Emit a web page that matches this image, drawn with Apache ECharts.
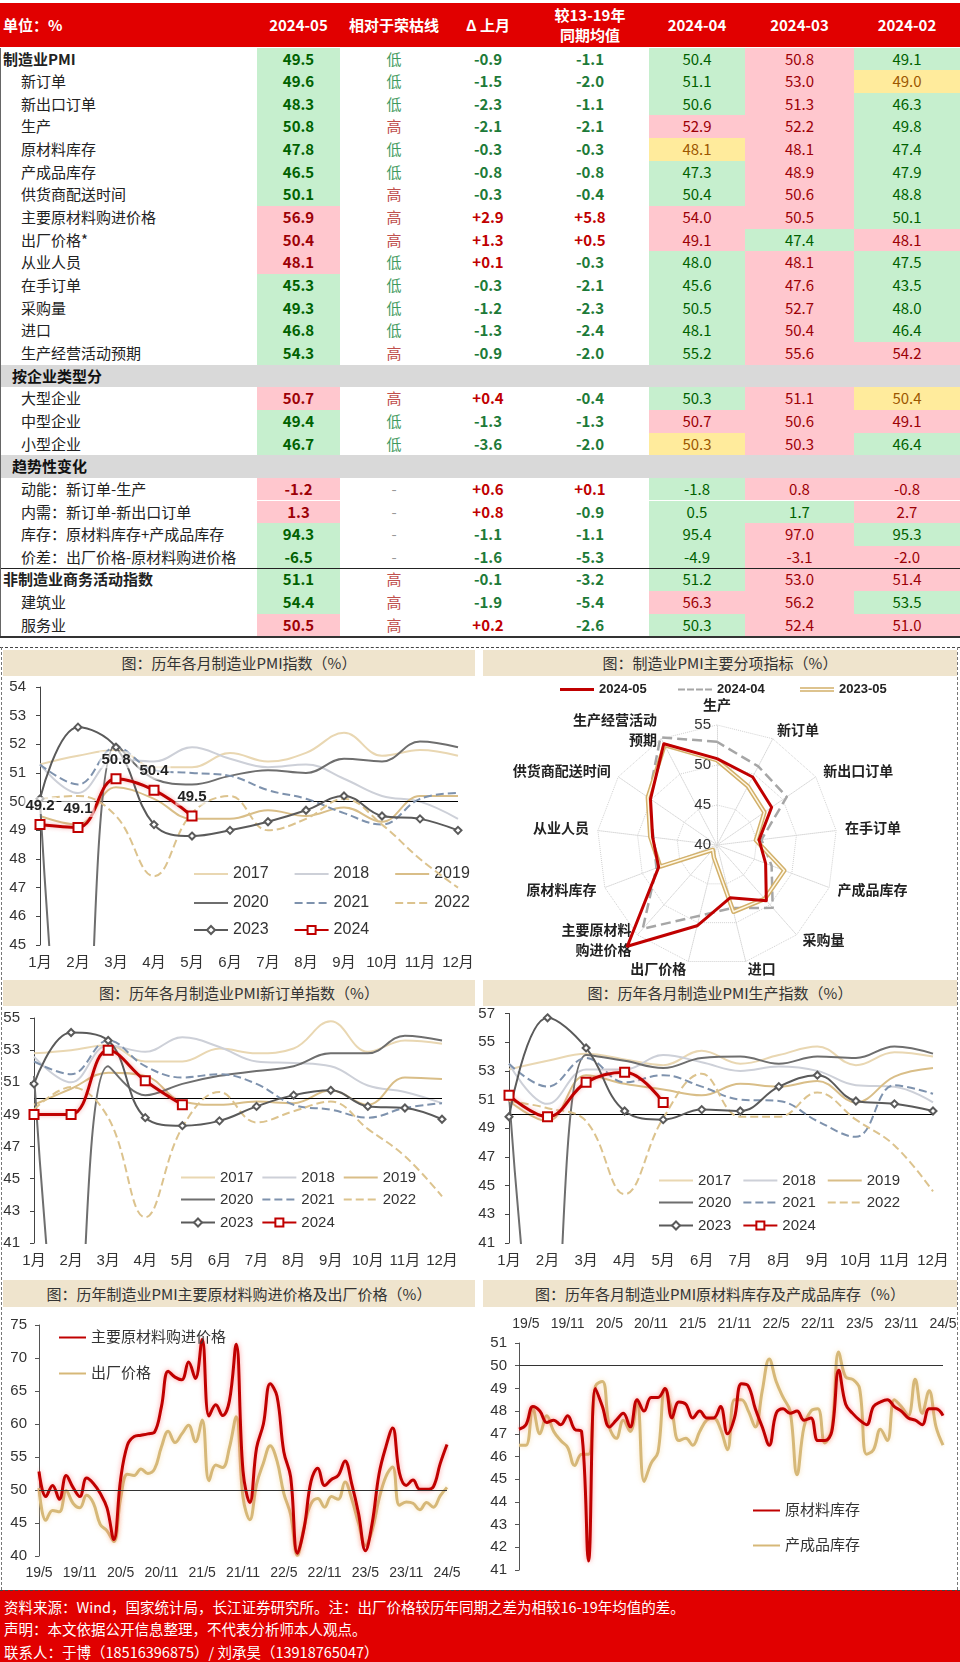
<!DOCTYPE html>
<html>
<head>
<meta charset="utf-8">
<title>制造业PMI</title>
<script src="https://cdn.jsdelivr.net/npm/echarts@6/dist/echarts.min.js"></script>
<style>
  html, body { margin: 0; padding: 0; background: #fff; }
  body { width: 960px; height: 1662px; position: relative; overflow: hidden;
         font-family: "Noto Sans CJK SC", "Liberation Sans", sans-serif; }
  .a { position: absolute; box-sizing: border-box; white-space: nowrap; }
  .hd { color: #fff; font-weight: bold; font-size: 15px; text-align: center; }
  .band { background: #efe4cd; color: #333; font-size: 15px; text-align: center; line-height: 26px; }
  .foot { color: #fff; font-size: 14.5px; left: 4px; }
</style>
</head>
<body>

<div class="a" style="left:0;top:3px;width:960px;height:44px;background:#e10000;"></div>
<div class="a hd" style="left:3px;top:3px;line-height:44px;text-align:left;">单位：%</div>
<div class="a hd" style="left:257px;width:83px;top:3px;line-height:44px;">2024-05</div>
<div class="a hd" style="left:340px;width:108px;top:3px;line-height:44px;">相对于荣枯线</div>
<div class="a hd" style="left:440px;width:96px;top:3px;line-height:44px;">Δ 上月</div>
<div class="a hd" style="left:540px;width:100px;top:5px;line-height:20px;">较13-19年<br>同期均值</div>
<div class="a hd" style="left:649px;width:96px;top:3px;line-height:44px;">2024-04</div>
<div class="a hd" style="left:745px;width:109px;top:3px;line-height:44px;">2024-03</div>
<div class="a hd" style="left:854px;width:106px;top:3px;line-height:44px;">2024-02</div>

<div class="a band" style="left:3px;top:650px;width:472px;height:26px;">图：历年各月制造业PMI指数（%）</div>
<div class="a band" style="left:483px;top:650px;width:474px;height:26px;">图：制造业PMI主要分项指标（%）</div>
<div class="a band" style="left:3px;top:980px;width:472px;height:26px;">图：历年各月制造业PMI新订单指数（%）</div>
<div class="a band" style="left:483px;top:980px;width:474px;height:26px;">图：历年各月制造业PMI生产指数（%）</div>
<div class="a band" style="left:3px;top:1280px;width:472px;height:27px;line-height:27px;">图：历年制造业PMI主要原材料购进价格及出厂价格（%）</div>
<div class="a band" style="left:483px;top:1280px;width:474px;height:27px;line-height:27px;">图：历年各月制造业PMI原材料库存及产成品库存（%）</div>

<div id="c1" class="a" style="left:0;top:676px;width:480px;height:304px;"></div>
<div id="c2" class="a" style="left:480px;top:676px;width:480px;height:304px;"></div>
<div id="c3" class="a" style="left:0;top:1006px;width:480px;height:274px;"></div>
<div id="c4" class="a" style="left:470px;top:1006px;width:490px;height:274px;"></div>
<div id="c5" class="a" style="left:0;top:1307px;width:480px;height:283px;"></div>
<div id="c6" class="a" style="left:480px;top:1307px;width:480px;height:283px;"></div>

<div class="a" style="left:0;top:647px;width:960px;border-top:1.5px dashed #444;"></div>
<div class="a" style="left:1px;top:647px;height:943px;border-left:1px dashed #777;"></div>
<div class="a" style="left:957px;top:647px;height:943px;border-left:1px dashed #777;"></div>
<div class="a" style="left:0;top:1590px;width:960px;height:72px;background:#e10000;border-top:1.5px dashed #444;"></div>
<div class="a foot" style="top:1596px;">资料来源：Wind，国家统计局，长江证券研究所。注：出厂价格较历年同期之差为相较16-19年均值的差。</div>
<div class="a foot" style="top:1618px;">声明：本文依据公开信息整理，不代表分析师本人观点。</div>
<div class="a foot" style="top:1641px;">联系人：于博（18516396875）/ 刘承昊（13918765047）</div>

<script>
// ---------- table data ----------
const rowLabels = ['制造业PMI', '新订单', '新出口订单', '生产', '原材料库存', '产成品库存', '供货商配送时间',
  '主要原材料购进价格', '出厂价格*', '从业人员', '在手订单', '采购量', '进口', '生产经营活动预期',
  '按企业类型分', '大型企业', '中型企业', '小型企业',
  '趋势性变化', '动能：新订单-生产', '内需：新订单-新出口订单', '库存：原材料库存+产成品库存', '价差：出厂价格-原材料购进价格',
  '非制造业商务活动指数', '建筑业', '服务业'];
const rowKinds = 'biiiiiiiiiiiiisiiisiiiibii';
const may24 = ['49.5', '49.6', '48.3', '50.8', '47.8', '46.5', '50.1', '56.9', '50.4', '48.1', '45.3', '49.3', '46.8', '54.3',
  '', '50.7', '49.4', '46.7', '', '-1.2', '1.3', '94.3', '-6.5', '51.1', '54.4', '50.5'];
const vsLine = ['低', '低', '低', '高', '低', '低', '高', '高', '高', '低', '低', '低', '低', '高',
  '', '高', '低', '低', '', '-', '-', '-', '-', '高', '高', '高'];
const dPrev = ['-0.9', '-1.5', '-2.3', '-2.1', '-0.3', '-0.8', '-0.3', '+2.9', '+1.3', '+0.1', '-0.3', '-1.2', '-1.3', '-0.9',
  '', '+0.4', '-1.3', '-3.6', '', '+0.6', '+0.8', '-1.1', '-1.6', '-0.1', '-1.9', '+0.2'];
const vsAvg = ['-1.1', '-2.0', '-1.1', '-2.1', '-0.3', '-0.8', '-0.4', '+5.8', '+0.5', '-0.3', '-2.1', '-2.3', '-2.4', '-2.0',
  '', '-0.4', '-1.3', '-2.0', '', '+0.1', '-0.9', '-1.1', '-5.3', '-3.2', '-5.4', '-2.6'];
const apr24 = ['50.4', '51.1', '50.6', '52.9', '48.1', '47.3', '50.4', '54.0', '49.1', '48.0', '45.6', '50.5', '48.1', '55.2',
  '', '50.3', '50.7', '50.3', '', '-1.8', '0.5', '95.4', '-4.9', '51.2', '56.3', '50.3'];
const mar24 = ['50.8', '53.0', '51.3', '52.2', '48.1', '48.9', '50.6', '50.5', '47.4', '48.1', '47.6', '52.7', '50.4', '55.6',
  '', '51.1', '50.6', '50.3', '', '0.8', '1.7', '97.0', '-3.1', '53.0', '56.2', '52.4'];
const feb24 = ['49.1', '49.0', '46.3', '49.8', '47.4', '47.9', '48.8', '50.1', '48.1', '47.5', '43.5', '48.0', '46.4', '54.2',
  '', '50.4', '49.1', '46.4', '', '-0.8', '2.7', '95.3', '-2.0', '51.4', '53.5', '51.0'];
// highlight of each cell as in the reference (G green, R red, Y yellow)
const markMay = 'GGGGGGGRRRGGGG-RGG-RRGGGGR';
const markApr = 'GGGRYGGRRGGGGG-GRY-GGGGGRG';
const markMar = 'RRRRRRRRGRRRRR-RRR-RGRRRRR';
const markFeb = 'GYGGGGGGRGGGGR-YRG-RRGRRGR';

// ---------- chart data ----------
const monthCats = ['1月', '2月', '3月', '4月', '5月', '6月', '7月', '8月', '9月', '10月', '11月', '12月'];
const years = ['2017', '2018', '2019', '2020', '2021', '2022', '2023', '2024'];

const pmi17 = [51.3, 51.6, 51.8, 51.2, 51.2, 51.7, 51.4, 51.7, 52.4, 51.6, 51.8, 51.6];
const pmi18 = [51.3, 50.3, 51.5, 51.4, 51.9, 51.5, 51.2, 51.3, 50.8, 50.2, 50.0, 49.4];
const pmi19 = [49.5, 49.2, 50.5, 50.1, 49.4, 49.4, 49.7, 49.5, 49.8, 49.3, 50.2, 50.2];
const pmi20 = [50.0, 35.7, 52.0, 50.8, 50.6, 50.9, 51.1, 51.0, 51.5, 51.4, 52.1, 51.9];
const pmi21 = [51.3, 50.6, 51.9, 51.1, 51.0, 50.9, 50.4, 50.1, 49.6, 49.2, 50.1, 50.3];
const pmi22 = [50.1, 50.2, 49.5, 47.4, 49.6, 50.2, 49.0, 49.4, 50.1, 49.2, 48.0, 47.0];
const pmi23 = [50.1, 52.6, 51.9, 49.2, 48.8, 49.0, 49.3, 49.7, 50.2, 49.5, 49.4, 49.0];
const pmi24 = [49.2, 49.1, 50.8, 50.4, 49.5];

const ord17 = [52.8, 53.0, 53.3, 52.3, 52.3, 53.1, 52.8, 53.1, 54.8, 52.9, 53.6, 53.4];
const ord18 = [52.6, 51.0, 53.3, 52.9, 53.8, 53.2, 52.3, 52.2, 52.0, 50.8, 50.4, 49.7];
const ord19 = [49.6, 50.6, 51.6, 51.4, 49.8, 49.6, 49.8, 49.7, 50.5, 49.6, 51.3, 51.2];
const ord20 = [51.4, 29.3, 52.0, 50.2, 50.9, 51.4, 51.7, 52.0, 52.8, 52.8, 53.9, 53.6];
const ord21 = [52.3, 51.5, 53.6, 52.0, 51.3, 51.5, 50.9, 49.6, 49.3, 48.8, 49.4, 49.7];
const ord22 = [49.3, 50.7, 48.8, 42.6, 48.2, 50.4, 48.5, 49.2, 49.8, 48.1, 46.4, 43.9];
const ord23 = [50.9, 54.1, 53.6, 48.8, 48.3, 48.6, 49.5, 50.2, 50.5, 49.5, 49.4, 48.7];
const ord24 = [49.0, 49.0, 53.0, 51.1, 49.6];

const prd17 = [53.1, 53.7, 54.2, 53.8, 53.4, 54.4, 53.5, 54.1, 54.7, 53.4, 54.3, 54.0];
const prd18 = [53.5, 50.7, 53.1, 53.1, 54.1, 53.6, 53.0, 53.3, 53.0, 52.0, 51.9, 50.8];
const prd19 = [50.9, 49.5, 52.7, 52.1, 51.7, 51.3, 52.1, 51.9, 52.3, 50.8, 52.6, 53.2];
const prd20 = [51.3, 27.8, 54.1, 53.7, 53.2, 53.9, 54.0, 53.5, 54.0, 53.9, 54.7, 54.2];
const prd21 = [53.5, 51.9, 53.9, 52.2, 52.7, 51.9, 51.0, 50.9, 49.5, 48.4, 52.0, 51.4];
const prd22 = [50.9, 50.4, 49.5, 44.4, 49.7, 52.8, 49.8, 49.8, 51.5, 49.6, 47.8, 44.6];
const prd23 = [49.8, 56.7, 54.6, 50.2, 49.6, 50.3, 50.2, 51.9, 52.7, 50.9, 50.7, 50.2];
const prd24 = [51.3, 49.8, 52.2, 52.9, 50.8];

// radar, listed clockwise from the top
const radarNames = ['生产', '新订单', '新出口订单', '在手订单', '产成品库存', '采购量', '进口', '出厂价格',
  '主要原材料\n购进价格', '原材料库存', '从业人员', '供货商配送时间', '生产经营活动\n预期'];
const radarMay24 = [50.8, 49.6, 48.3, 45.3, 46.5, 49.3, 46.8, 50.4, 56.9, 47.8, 48.1, 50.1, 54.3];
const radarApr24 = [52.9, 51.1, 50.6, 45.6, 47.3, 50.5, 48.1, 49.1, 54.0, 48.1, 48.0, 50.4, 55.2];
const radarMay23 = [50.6, 48.3, 47.2, 44.9, 49.0, 49.0, 48.6, 41.6, 40.8, 47.6, 48.4, 50.5, 54.1];

// monthly from 2019-05 to 2024-05
const inputPrice = [52.8, 49.0, 50.7, 48.6, 52.2, 50.4, 49.0, 51.8,
  51.0, 49.5, 47.3, 42.5, 51.6, 56.8, 58.1, 58.3, 58.5, 58.8, 62.6, 68.0,
  67.1, 66.7, 69.4, 66.9, 72.8, 61.2, 62.9, 61.3, 63.5, 72.1, 52.9, 48.1,
  56.4, 60.0, 66.1, 64.2, 55.8, 52.0, 40.4, 44.3, 51.3, 53.3, 50.7, 51.6,
  52.2, 54.4, 50.9, 46.4, 40.8, 45.0, 52.4, 56.5, 59.4, 52.6, 50.7, 51.5,
  50.1, 50.1, 50.5, 54.0, 56.9];
const outputPrice = [50.3, 45.4, 46.9, 46.7, 49.9, 48.0, 47.3, 49.2,
  48.0, 44.8, 43.8, 42.2, 48.7, 52.4, 52.2, 53.2, 52.5, 53.2, 56.5, 58.9,
  57.2, 58.5, 59.8, 57.3, 60.6, 51.4, 53.8, 53.4, 56.4, 61.1, 48.9, 45.5,
  50.9, 54.1, 56.7, 54.4, 49.5, 46.3, 40.1, 44.5, 47.9, 48.7, 47.4, 49.0,
  48.6, 51.2, 48.6, 44.9, 41.6, 43.9, 48.6, 52.0, 53.5, 47.7, 48.2, 48.0,
  47.0, 48.1, 47.4, 49.1, 50.4];
// monthly from 2019-04 to 2024-05
const rawStock = [47.2, 47.4, 48.2, 48.0, 47.5, 47.6, 47.4, 47.8, 47.2,
  47.1, 41.4, 49.0, 48.2, 47.3, 47.6, 47.9, 47.3, 48.5, 48.0, 48.6, 48.6,
  49.0, 47.7, 48.4, 48.3, 47.7, 48.0, 47.7, 47.7, 48.2, 47.0, 47.7, 49.2,
  49.1, 48.1, 47.3, 46.5, 47.9, 48.1, 47.9, 48.0, 47.6, 47.7, 46.7, 46.7,
  47.1, 49.8, 48.3, 47.9, 47.6, 47.4, 48.2, 48.4, 48.5, 48.2, 48.0, 47.7,
  47.6, 47.4, 48.1, 48.1, 47.8];
const goodsStock = [46.5, 46.5, 48.1, 47.0, 47.8, 47.1, 46.7, 46.4, 45.6,
  46.1, 46.1, 49.1, 49.3, 47.3, 46.8, 47.6, 47.1, 48.4, 44.9, 45.7, 46.2,
  49.0, 48.0, 46.7, 46.8, 46.5, 47.1, 47.6, 47.7, 47.2, 46.3, 48.5, 48.5,
  48.0, 47.3, 48.9, 50.3, 49.3, 48.6, 48.0, 45.2, 47.3, 48.0, 48.1, 46.6,
  47.2, 50.6, 49.5, 49.4, 49.0, 46.1, 46.3, 47.2, 46.7, 48.5, 48.2, 47.8,
  49.4, 47.9, 48.9, 47.3, 46.5];

function monthLabels(y, m, n) {
  const out = [];
  for (let i = 0; i < n; i++) {
    out.push(String(y).slice(2) + '/' + m);
    m++;
    if (m > 12) { m = 1; y++; }
  }
  return out;
}
const priceMonths = monthLabels(2019, 5, inputPrice.length);
const stockMonths = monthLabels(2019, 4, rawStock.length);

// ---------- table ----------
const C = { G: ['#c6efce', '#006100'], R: ['#ffc7ce', '#9c0006'], Y: ['#ffeb9c', '#9c5700'] };
const top0 = 47.5, rowH = 22.65;
function put(text, style) {
  const d = document.createElement('div');
  d.className = 'a';
  d.style.cssText = style;
  d.textContent = text;
  document.body.appendChild(d);
  return d;
}
const signColor = v => v.startsWith('+') ? '#c00000' : (v.startsWith('-') && v.length > 1 ? '#1d7a38' : '#888');
rowLabels.forEach((lab, i) => {
  const y = top0 + i * rowH;
  const base = `top:${y}px;height:${rowH}px;line-height:${rowH}px;font-size:15px;`;
  const kind = rowKinds[i];
  if (kind === 's') {
    put('', `${base}left:0;width:960px;background:#d9d9d9;`);
    put(lab, `${base}left:12px;font-weight:bold;color:#111;`);
    return;
  }
  put(lab, `${base}left:${kind === 'b' ? 3 : 21}px;color:#222;${kind === 'b' ? 'font-weight:bold;' : ''}`);
  const cells = [
    [may24[i], markMay[i], 257, 83, true],
    [apr24[i], markApr[i], 649, 96, false],
    [mar24[i], markMar[i], 745, 109, false],
    [feb24[i], markFeb[i], 854, 106, false]
  ];
  cells.forEach(([v, m, l, w, bold]) => {
    const c = C[m];
    put(v, `${base}left:${l}px;width:${w}px;text-align:center;background:${c[0]};color:${c[1]};${bold ? 'font-weight:bold;' : ''}`);
  });
  const lc = vsLine[i] === '高' ? '#c0504d' : (vsLine[i] === '低' ? '#3f9a5e' : '#999');
  put(vsLine[i], `${base}left:340px;width:108px;text-align:center;color:${lc};`);
  put(dPrev[i], `${base}left:440px;width:96px;text-align:center;font-weight:bold;color:${signColor(dPrev[i])};`);
  put(vsAvg[i], `${base}left:540px;width:100px;text-align:center;font-weight:bold;color:${signColor(vsAvg[i])};`);
});
put('', `left:0;top:${top0 + 23 * rowH}px;width:960px;height:1px;background:#222;`);
put('', `left:0;top:${top0 + 26 * rowH}px;width:960px;height:1.5px;background:#333;`);
put('', `left:0;top:${top0}px;width:1px;height:${26 * rowH}px;background:#666;`);

// ---------- charts ----------
const FONT = "'Liberation Sans','Noto Sans CJK SC',sans-serif";
const yearStyle = {
  '2017': { color: '#e9d7b2' },
  '2018': { color: '#cdd0d8' },
  '2019': { color: '#d9be88' },
  '2020': { color: '#6e6e6e' },
  '2021': { color: '#7e92ad', type: 'dashed' },
  '2022': { color: '#dcc38e', type: 'dashed' },
  '2023': { color: '#5a5a5a', symbol: 'emptyDiamond', size: 7 },
  '2024': { color: '#c00000', symbol: 'emptyRect', size: 9, width: 3 }
};
// legend entry that shows only the line (no marker) when the series has no symbol
const legendItem = (name, hasSymbol) => hasSymbol ? { name: name } : { name: name, itemStyle: { opacity: 0 } };

function yearChart(id, data, yMin, yMax, yStep, grid, legend, withLabels) {
  const chart = echarts.init(document.getElementById(id), null, { renderer: 'canvas' });
  const series = years.map((y, i) => {
    const st = yearStyle[y];
    const s = {
      name: y, type: 'line', data: data[i], smooth: 0.4, z: 2 + i,
      symbol: st.symbol || 'none', symbolSize: st.size || 4, showSymbol: !!st.symbol,
      lineStyle: { color: st.color, width: st.width || 2, type: st.type || 'solid' },
      itemStyle: { color: st.color, borderWidth: st.symbol ? 1.5 : 0 }
    };
    if (y === '2024') {
      s.lineStyle.shadowBlur = 4;
      s.lineStyle.shadowColor = 'rgba(230,80,80,0.45)';
      if (withLabels) {
        s.label = {
          show: true, position: 'top', distance: 5, fontSize: 15, fontWeight: 'bold', color: '#222',
          fontFamily: FONT, backgroundColor: 'rgba(255,255,255,0.6)', padding: [1, 2]
        };
      }
    }
    if (i === 0) {
      s.markLine = {
        silent: true, symbol: ['none', 'none'], label: { show: false }, animation: false,
        lineStyle: { color: '#000', width: 1, type: 'solid' }, data: [{ yAxis: 50 }]
      };
    }
    return s;
  });
  const rows = [['2017', '2018', '2019'], ['2020', '2021', '2022'], ['2023', '2024']];
  chart.setOption({
    animation: false,
    textStyle: { fontFamily: FONT },
    grid: grid,
    legend: rows.map((r, k) => ({
      data: r.map(n => legendItem(n, !!yearStyle[n].symbol)),
      left: legend.left, top: legend.tops[k], itemWidth: 34, itemHeight: 10, itemGap: legend.gap,
      textStyle: { fontSize: legend.font, color: '#333', fontFamily: FONT }
    })),
    xAxis: {
      type: 'category', data: monthCats, boundaryGap: false,
      axisLine: { show: false }, axisTick: { show: false },
      axisLabel: { fontSize: 15, color: '#333', margin: 10, interval: 0, fontFamily: FONT }
    },
    yAxis: {
      type: 'value', min: yMin, max: yMax, interval: yStep,
      axisLine: { show: true, lineStyle: { color: '#444' } },
      axisTick: { show: true, length: 4, lineStyle: { color: '#444' } },
      splitLine: { show: false },
      axisLabel: { fontSize: 15, color: '#333', margin: 14, fontFamily: FONT }
    },
    series: series
  });
}

yearChart('c1', [pmi17, pmi18, pmi19, pmi20, pmi21, pmi22, pmi23, pmi24], 45, 54, 1,
  { left: 40, right: 22, top: 11, bottom: 35 },
  { left: 188, tops: [185, 214, 241], gap: 25, font: 16 }, true);
yearChart('c3', [ord17, ord18, ord19, ord20, ord21, ord22, ord23, ord24], 41, 55, 2,
  { left: 34, right: 38, top: 12, bottom: 37 },
  { left: 175, tops: [159, 181, 204], gap: 8, font: 15 }, false);
yearChart('c4', [prd17, prd18, prd19, prd20, prd21, prd22, prd23, prd24], 41, 57, 2,
  { left: 39, right: 27, top: 7, bottom: 37 },
  { left: 183, tops: [162, 184, 207], gap: 11, font: 15 }, false);

// radar: ECharts lays indicators counter-clockwise, so reverse all but the first
const order = [0].concat(radarNames.map((_, i) => i).slice(1).reverse());
const pick = arr => order.map(i => arr[i]);
const radar = echarts.init(document.getElementById('c2'), null, { renderer: 'canvas' });
const tan = '#d2b06a';
radar.setOption({
  animation: false,
  textStyle: { fontFamily: FONT },
  legend: [
    { data: [{ name: '2024-05', icon: 'path://M0,0H34V3H0Z' }], left: 75, top: 2, itemWidth: 34, itemHeight: 3,
      textStyle: { fontSize: 13, fontWeight: 'bold', color: '#222' } },
    { data: [{ name: '2024-04', icon: 'path://M0,0H7V2H0Z M9,0H16V2H9Z M18,0H25V2H18Z M27,0H34V2H27Z' }], left: 193, top: 2,
      itemWidth: 34, itemHeight: 2.5, textStyle: { fontSize: 13, fontWeight: 'bold', color: '#222' } },
    { data: [{ name: '2023-05', icon: 'path://M0,0H34V1.5H0Z M0,3H34V4.5H0Z' }], left: 315, top: 2, itemWidth: 34, itemHeight: 4.5,
      textStyle: { fontSize: 13, fontWeight: 'bold', color: '#222' } }
  ],
  radar: {
    center: [237, 169], radius: 120, startAngle: 90, shape: 'polygon', splitNumber: 3,
    nameGap: 9,
    indicator: pick(radarNames).map((n, k) => {
      const ind = { name: n, min: 40, max: 55 };
      if (k === 0) ind.axisLabel = { show: true, fontSize: 15, color: '#333', margin: 6, showMinLabel: true };
      return ind;
    }),
    axisName: { color: '#222', fontWeight: 'bold', fontSize: 14, lineHeight: 20 },
    splitLine: { lineStyle: { color: '#d0d0d0', type: 'dotted', width: 1 } },
    splitArea: { show: false },
    axisLine: { lineStyle: { color: '#d8d8d8', type: 'dotted' } },
    axisTick: { show: false },
    axisLabel: { show: false }
  },
  series: [{
    type: 'radar', symbol: 'none',
    data: [
      { name: '2024-04', value: pick(radarApr24), itemStyle: { color: '#a6a6a6' },
        lineStyle: { color: '#a6a6a6', width: 2.5, type: 'dashed' } },
      { name: '2023-05', value: pick(radarMay23), itemStyle: { color: tan },
        lineStyle: { color: tan, width: 4.5 } },
      { name: '2023-05 ', value: pick(radarMay23), itemStyle: { color: '#fff8e6' },
        lineStyle: { color: '#fff8e6', width: 1.5 } },
      { name: '2024-05', value: pick(radarMay24), itemStyle: { color: '#c00000' },
        lineStyle: { color: '#c00000', width: 3 } }
    ]
  }]
});

function pairChart(id, cats, a, b, names, yMin, yMax, yStep, grid, xTop, labelAt, legendPos) {
  const chart = echarts.init(document.getElementById(id), null, { renderer: 'canvas' });
  chart.setOption({
    animation: false,
    textStyle: { fontFamily: FONT },
    grid: grid,
    legend: {
      data: names.map(n => legendItem(n, false)), orient: 'vertical', left: legendPos.left, top: legendPos.top,
      itemGap: legendPos.gap, itemWidth: 27, itemHeight: 10,
      textStyle: { fontSize: 15, color: '#333', fontFamily: FONT }
    },
    xAxis: {
      type: 'category', data: cats, boundaryGap: false, position: xTop ? 'top' : 'bottom',
      axisLine: { show: false }, axisTick: { show: false },
      axisLabel: { fontSize: 14, color: '#333', margin: xTop ? 12 : 10, interval: (i) => i % 6 === labelAt, fontFamily: FONT }
    },
    yAxis: {
      type: 'value', min: yMin, max: yMax, interval: yStep,
      axisLine: { show: true, lineStyle: { color: '#555' } },
      axisTick: { show: true, length: 4, lineStyle: { color: '#555' } },
      splitLine: { show: false },
      axisLabel: { fontSize: 15, color: '#333', margin: 12, fontFamily: FONT }
    },
    series: [
      { name: names[0], type: 'line', data: a, smooth: 0.4, symbol: 'none', z: 3,
        lineStyle: { color: '#c00000', width: 3, shadowBlur: 5, shadowColor: 'rgba(255,90,90,0.6)' },
        itemStyle: { color: '#c00000' },
        markLine: { silent: true, symbol: ['none', 'none'], label: { show: false },
          lineStyle: { color: '#333', width: 1, type: 'solid' }, data: [{ yAxis: 50 }] } },
      { name: names[1], type: 'line', data: b, smooth: 0.4, symbol: 'none', z: 2,
        lineStyle: { color: '#d6b878', width: 3, shadowBlur: 5, shadowColor: 'rgba(245,215,160,0.7)' },
        itemStyle: { color: '#d6b878' } }
    ]
  });
}

pairChart('c5', priceMonths, inputPrice, outputPrice, ['主要原材料购进价格', '出厂价格'], 40, 75, 5,
  { left: 39, right: 33, top: 18, bottom: 34 }, false, 0, { left: 53, top: 18, gap: 21 });
pairChart('c6', stockMonths, rawStock, goodsStock, ['原材料库存', '产成品库存'], 41, 51, 1,
  { left: 39, right: 17, top: 36, bottom: 20 }, true, 1, { left: 267, top: 191, gap: 20 });
</script>
</body>
</html>
